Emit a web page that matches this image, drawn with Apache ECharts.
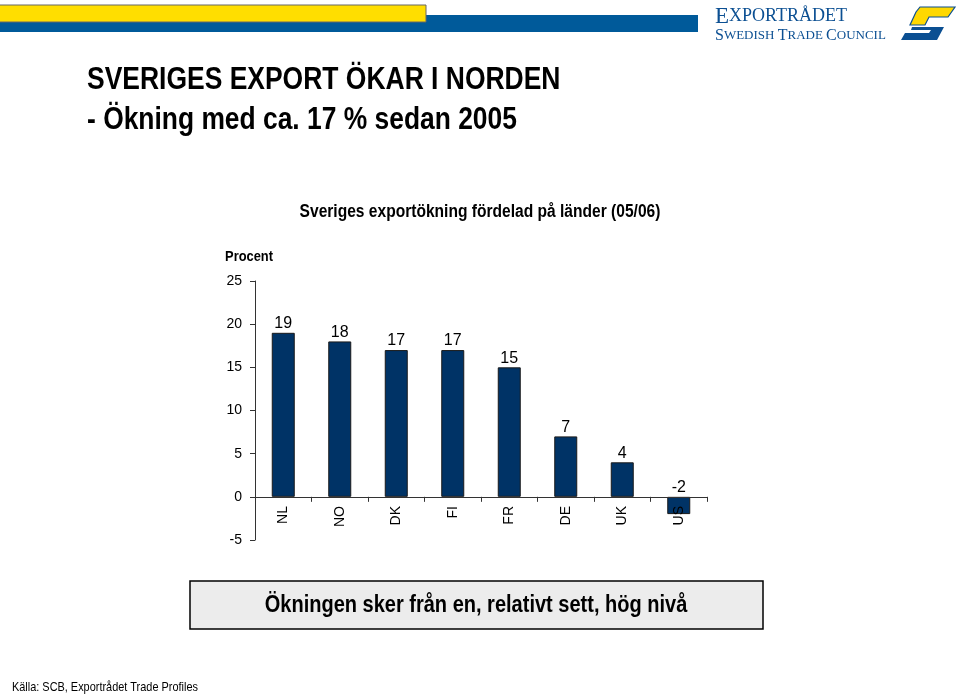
<!DOCTYPE html>
<html>
<head>
<meta charset="utf-8">
<script src="https://cdn.jsdelivr.net/npm/echarts@6/dist/echarts.min.js"></script>
<style>html,body{margin:0;padding:0;background:#fff;}#c{width:959px;height:695px;}</style>
</head>
<body>
<div id="c"></div>
<script>
const categories = ['NL', 'NO', 'DK', 'FI', 'FR', 'DE', 'UK', 'US'];
const values = [19, 18, 17, 17, 15, 7, 4, -2];
const yMin = -5, yMax = 25, yStep = 5;

const SANS = "'Liberation Sans', Arial, sans-serif";
const SERIF = "'Liberation Serif', 'DejaVu Serif', serif";
const chart = echarts.init(document.getElementById('c'), null, {renderer: 'canvas'});

function txt(x, y, text, size, bold, scale, align, extra) {
  return Object.assign({
    type: 'text', x: x, y: y, scaleX: scale, scaleY: 1,
    style: {text: text, fontFamily: SANS, fontWeight: bold ? 'bold' : 'normal', fontSize: size,
      fill: '#000', align: align || 'left', verticalAlign: 'middle'}
  }, extra || {});
}

chart.setOption({
  animation: false,
  backgroundColor: '#fff',
  grid: {left: 255, right: 252, top: 281, bottom: 155, containLabel: false},
  xAxis: {
    type: 'category',
    data: categories,
    z: 5,
    axisLine: {onZero: true, lineStyle: {color: '#333', width: 1}},
    axisTick: {show: true, length: 5, lineStyle: {color: '#333'}},
    axisLabel: {rotate: 90, margin: -34, fontFamily: SANS, fontSize: 14, color: '#000'}
  },
  yAxis: {
    type: 'value',
    min: yMin, max: yMax, interval: yStep,
    splitLine: {show: false},
    axisLine: {show: true, lineStyle: {color: '#333', width: 1}},
    axisTick: {show: true, length: 5, lineStyle: {color: '#333'}},
    axisLabel: {margin: 13, fontFamily: SANS, fontSize: 14, color: '#000'}
  },
  series: [{
    type: 'bar',
    data: values,
    barWidth: 23,
    z: 2,
    itemStyle: {color: '#003366', borderColor: '#1a1a1a', borderWidth: 1},
    label: {show: true, position: 'top', distance: 1, fontFamily: SANS, fontSize: 16, color: '#000'}
  }],
  graphic: [
    {type: 'rect', shape: {x: 0, y: 15, width: 698, height: 17}, style: {fill: '#005a9a'}},
    {type: 'rect', shape: {x: -2, y: 5, width: 428, height: 17}, style: {fill: '#ffde00', stroke: '#666', lineWidth: 1}},
    {type: 'text', left: 715, top: 5, style: {
      text: '{b|E}{s|XPORTRÅDET}', fill: '#0b4f92',
      rich: {b: {fontFamily: SERIF, fontSize: 23, fill: '#0b4f92'}, s: {fontFamily: SERIF, fontSize: 18, fill: '#0b4f92'}}
    }},
    {type: 'text', left: 715, top: 28, style: {
      text: '{b|S}{s|WEDISH }{b|T}{s|RADE }{b|C}{s|OUNCIL}', fill: '#0b4f92',
      rich: {b: {fontFamily: SERIF, fontSize: 16, fill: '#0b4f92'}, s: {fontFamily: SERIF, fontSize: 13, fill: '#0b4f92'}}
    }},
    {type: 'polygon', shape: {points: [[920,7],[955,7],[948,17],[929,17],[925,25],[910,25],[916,12]]}, style: {fill: '#ffd800', stroke: '#0b4f92', lineWidth: 1.2}},
    {type: 'polygon', shape: {points: [[912,27],[944,27],[937,40],[901,40],[905,33],[929,33],[931,30],[911,30]]}, style: {fill: '#0b4f92'}},
    txt(87, 80, 'SVERIGES EXPORT ÖKAR I NORDEN', 32, true, 0.827),
    txt(87, 120, '- Ökning med ca. 17 % sedan 2005', 32, true, 0.825),
    txt(480, 212, 'Sveriges exportökning fördelad på länder (05/06)', 18, true, 0.865, 'center'),
    txt(273, 257, 'Procent', 14, true, 0.92, 'right'),
    {type: 'rect', shape: {x: 190, y: 581, width: 573, height: 48}, style: {fill: '#ececec', stroke: '#000', lineWidth: 1.5}},
    txt(476, 606, 'Ökningen sker från en, relativt sett, hög nivå', 23, true, 0.87, 'center'),
    txt(12, 687, 'Källa: SCB, Exportrådet Trade Profiles', 13, false, 0.84)
  ]
});
</script>
</body>
</html>
